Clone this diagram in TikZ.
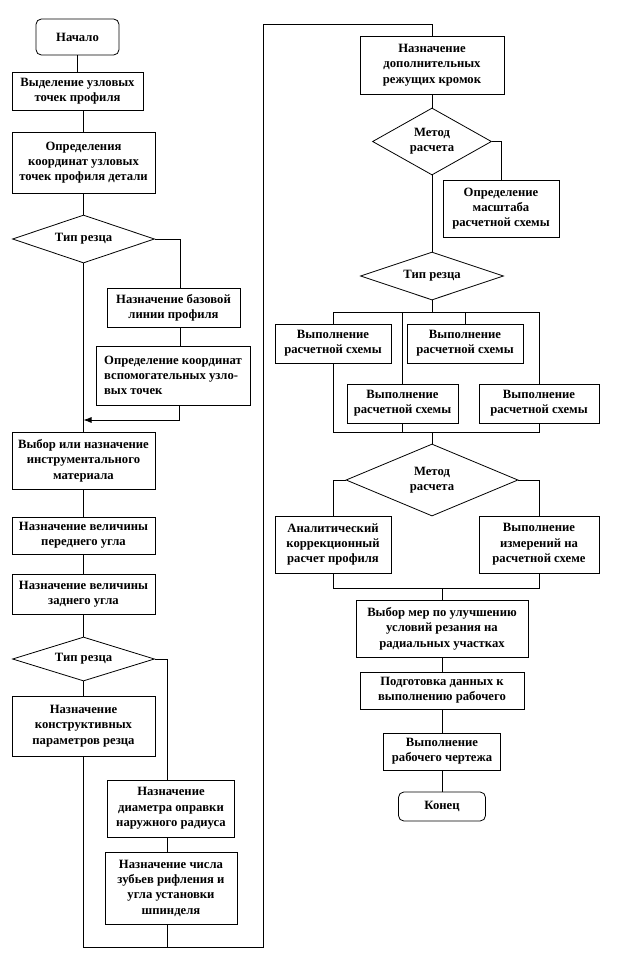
\documentclass[tikz,border=0pt]{standalone}
\usepackage{fontspec}
\setmainfont{Liberation Serif}[BoldFont={Liberation Serif Bold}]
\newfontfamily\blokfont{Liberation Serif}[BoldFont={Liberation Serif Bold}]
\usetikzlibrary{shapes.geometric,arrows.meta}

\begin{document}
\begin{tikzpicture}[x=0.75pt,y=-0.75pt,line width=0.6pt,
  blok/.style={draw,rectangle,align=center,inner sep=0pt,font=\blokfont\fontsize{9.5}{11.5}\selectfont\bfseries},
  kraj/.style={blok,rounded corners=4pt},
  romb/.style={draw,diamond,aspect=2,align=center,inner sep=0pt,font=\blokfont\fontsize{9.5}{11.5}\selectfont\bfseries}]
\useasboundingbox (0,0) rectangle (624,972);

\node[kraj,minimum width=62.25pt,minimum height=27pt] (nachalo) at (77.5,37) {Начало};
\node[blok,minimum width=98.25pt,minimum height=28.5pt] (vydel) at (77.5,91) {Выделение узловых\\точек профиля};
\node[blok,minimum width=107.25pt,minimum height=45.75pt] (opred) at (83.5,162.5) {Определения\\координат узловых\\точек профиля детали};
\node[romb,minimum width=106.5pt,minimum height=36pt] (tip1) at (83.5,239) {Тип резца};
\node[blok,minimum width=99.75pt,minimum height=29.25pt] (baz) at (173.5,307.5) {Назначение базовой\\линии профиля};
\node[blok,align=left,minimum width=115.5pt,minimum height=44.25pt] (vspom) at (173,375.5) {Определение координат\\вспомогательных узло-\\вых точек};
\coordinate (vhod) at (83.5,420);
\node[blok,minimum width=107.25pt,minimum height=42.75pt] (vybor) at (83.5,460.5) {Выбор или назначение\\инструментального\\материала};
\node[blok,minimum width=107.25pt,minimum height=27.75pt] (pered) at (83.5,535.5) {Назначение величины\\переднего угла};
\node[blok,minimum width=107.25pt,minimum height=30pt] (zad) at (83.5,594) {Назначение величины\\заднего угла};
\node[romb,minimum width=106.5pt,minimum height=33pt] (tip2) at (83.5,659) {Тип резца};
\node[blok,minimum width=107.25pt,minimum height=45pt] (konstr) at (83.5,726) {Назначение\\конструктивных\\параметров резца};
\node[blok,minimum width=95.25pt,minimum height=42.75pt] (diam) at (171,808.5) {Назначение\\диаметра оправки\\наружного радиуса};
\node[blok,minimum width=99pt,minimum height=54pt] (chisla) at (171,888) {Назначение числа\\зубьев рифления и\\угла установки\\шпинделя};
\coordinate (niz) at (263,947);
\coordinate (verh) at (263,24);

\node[blok,minimum width=108pt,minimum height=43.5pt] (dopoln) at (432,65) {Назначение\\дополнительных\\режущих кромок};
\node[romb,minimum width=89.25pt,minimum height=50.25pt] (metod1) at (432,141.5) {Метод\\расчета};
\node[blok,minimum width=87pt,minimum height=42.75pt] (masht) at (501,208.5) {Определение\\масштаба\\расчетной схемы};
\node[romb,minimum width=107.25pt,minimum height=36pt] (tip3) at (432,276) {Тип резца};
\coordinate (sh1) at (432,312);
\node[blok,minimum width=87pt,minimum height=29.25pt] (vypA) at (333,343.5) {Выполнение\\расчетной схемы};
\node[blok,minimum width=87pt,minimum height=29.25pt] (vypB) at (465,343.5) {Выполнение\\расчетной схемы};
\node[blok,minimum width=83.25pt,minimum height=29.25pt] (vypC) at (402.5,403.5) {Выполнение\\расчетной схемы};
\node[blok,minimum width=90pt,minimum height=29.25pt] (vypD) at (539,403.5) {Выполнение\\расчетной схемы};
\coordinate (sh2) at (432,432);
\node[romb,minimum width=129pt,minimum height=54pt] (metod2) at (432,480) {Метод\\расчета};
\node[blok,minimum width=87pt,minimum height=42.75pt] (analit) at (333,544.5) {Аналитический\\коррекционный\\расчет профиля};
\node[blok,minimum width=90pt,minimum height=42.75pt] (izmer) at (539,544.5) {Выполнение\\измерений на\\расчетной схеме};
\coordinate (sh3) at (442,588);
\node[blok,minimum width=129pt,minimum height=42.75pt] (mery) at (442,628.5) {Выбор мер по улучшению\\условий резания на\\радиальных участках};
\node[blok,minimum width=123pt,minimum height=27.75pt] (podgot) at (442,690.5) {Подготовка данных к\\выполнению рабочего};
\node[blok,minimum width=87.75pt,minimum height=27.75pt] (chertezh) at (442,751.5) {Выполнение\\рабочего чертежа};
\node[kraj,minimum width=65.25pt,minimum height=21.75pt] (konec) at (442,806.5) {Конец};

\draw (nachalo) -- (vydel);
\draw (vydel.south -| opred) -- (opred.north);
\draw (opred) -- (tip1);
\draw (tip1) -- (vybor);
\draw (tip1.east) -| ([xshift=5pt]baz.north);
\draw ([xshift=5pt]baz.south) -- ([xshift=5pt]baz.south |- vspom.north);
\draw[-{Latex[length=6pt,width=4.5pt]}] ([xshift=5pt]vspom.south) |- (vhod);
\draw (vybor) -- (pered);
\draw (pered) -- (zad);
\draw (zad) -- (tip2);
\draw (tip2) -- (konstr);
\draw (tip2.east) -| ([xshift=-3pt]diam.north);
\draw ([xshift=-3pt]diam.south) -- ([xshift=-3pt]chisla.north);
\draw ([xshift=-3pt]chisla.south) -- ([xshift=-3pt]chisla.south |- niz);
\draw (konstr) |- (niz) -- (verh) -| (dopoln);

\draw (dopoln) -- (metod1);
\draw (metod1.east) -| (masht);
\draw (metod1) -- (tip3);
\draw (tip3) -- (sh1);
\draw (vypA) |- (sh1 -| vypD) -- (vypD);
\draw (vypB) -- (vypB |- sh1);
\draw (vypC) -- (vypC |- sh1);
\draw (vypA) |- (sh2 -| vypD) -- (vypD);
\draw (vypC) -- (vypC |- sh2);
\draw (sh2) -- (metod2);
\draw (metod2.west) -| (analit);
\draw (metod2.east) -| (izmer);
\draw (analit) |- (sh3 -| izmer) -- (izmer);
\draw (sh3) -- (mery);
\draw (mery) -- (podgot);
\draw (podgot) -- (chertezh);
\draw (chertezh) -- (konec);
\end{tikzpicture}
\end{document}
